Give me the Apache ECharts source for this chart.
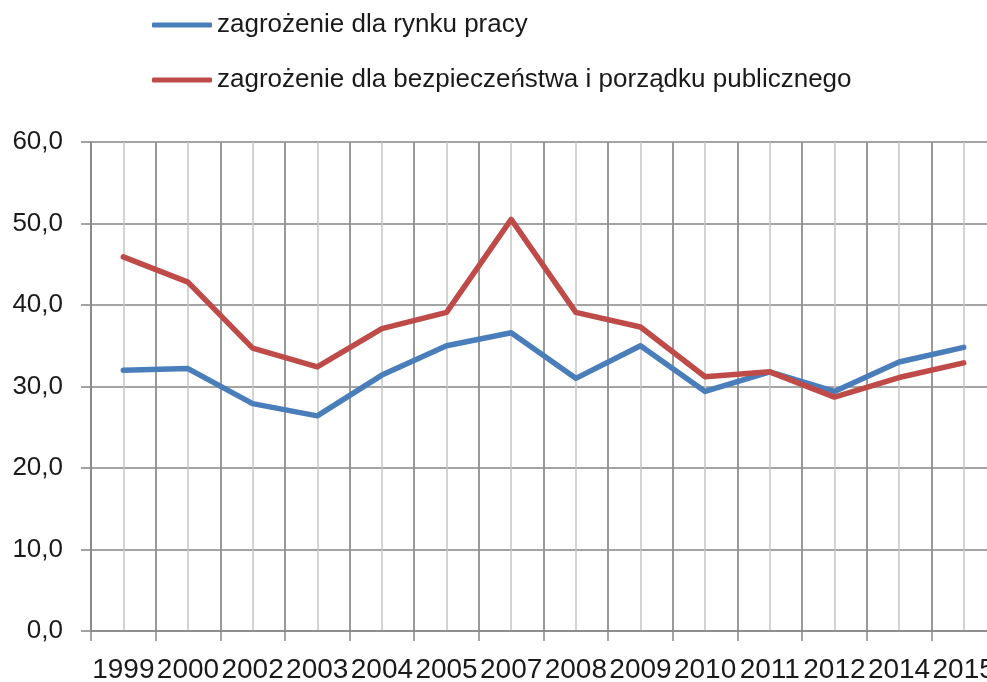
<!DOCTYPE html>
<html>
<head>
<meta charset="utf-8">
<script src="https://cdn.jsdelivr.net/npm/echarts@6/dist/echarts.min.js"></script>
<style>
  html, body { margin: 0; padding: 0; background: #fff; }
  #chart { width: 987px; height: 682px; }
</style>
</head>
<body>
<div id="chart"></div>
<script>
  var years = ['1999', '2000', '2002', '2003', '2004', '2005', '2007',
    '2008', '2009', '2010', '2011', '2012', '2014', '2015'];
  var rynekPracy = [32.0, 32.2, 27.9, 26.4, 31.4, 35.0, 36.6,
    31.0, 35.0, 29.4, 31.8, 29.4, 33.0, 34.8];
  var porzadekPubliczny = [45.9, 42.8, 34.7, 32.4, 37.1, 39.1, 50.5,
    39.1, 37.3, 31.2, 31.8, 28.7, 31.1, 32.9];
  var seriesNames = ['zagrożenie dla rynku pracy',
    'zagrożenie dla bezpieczeństwa i porządku publicznego'];

  var font = 'Liberation Sans, Arial, sans-serif';
  var chart = echarts.init(document.getElementById('chart'));

  chart.setOption({
    animation: false,
    backgroundColor: '#fff',
    legend: {
      orient: 'vertical',
      left: 152,
      top: 10,
      padding: 0,
      itemWidth: 60,
      itemHeight: 5,
      itemGap: 25,
      icon: 'roundRect',
      textStyle: { fontFamily: font, fontSize: 26, color: '#1a1a1a', lineHeight: 30 },
      data: seriesNames
    },
    grid: {
      left: 91,
      top: 142,
      right: -9,
      bottom: 51,
      containLabel: false,
      outerBoundsMode: 'none'
    },
    xAxis: [
      {
        type: 'category',
        data: years,
        boundaryGap: true,
        z: 1,
        axisLine: { lineStyle: { color: '#868686', width: 1.5 } },
        axisTick: { show: true, length: 10, lineStyle: { color: '#868686', width: 1.5 } },
        axisLabel: { interval: 0, margin: 25, fontFamily: font, fontSize: 28, color: '#1a1a1a' },
        splitLine: { show: true, interval: 0, lineStyle: { color: '#868686', width: 1.5 } }
      },
      {
        // light lines through the middle of each year
        type: 'value',
        min: 0,
        max: years.length,
        interval: 0.5,
        position: 'top',
        z: 0,
        axisLine: { show: false },
        axisTick: { show: false },
        axisLabel: { show: false },
        splitLine: { show: true, lineStyle: { color: '#c4c4c4', width: 1.5 } }
      }
    ],
    yAxis: {
      type: 'value',
      min: 0,
      max: 60,
      interval: 10,
      axisLine: { show: true, lineStyle: { color: '#868686', width: 1.5 } },
      axisTick: { show: true, length: 10, lineStyle: { color: '#868686', width: 1.5 } },
      axisLabel: {
        margin: 28,
        fontFamily: font,
        fontSize: 26,
        color: '#1a1a1a',
        formatter: function (v) { return v.toFixed(1).replace('.', ','); }
      },
      splitLine: { show: true, lineStyle: { color: '#868686', width: 1.5 } }
    },
    series: [
      {
        name: seriesNames[0],
        type: 'line',
        xAxisIndex: 0,
        data: rynekPracy,
        symbol: 'none',
        color: '#4A7EBB',
        lineStyle: { width: 5.5, join: 'round', cap: 'round' }
      },
      {
        name: seriesNames[1],
        type: 'line',
        xAxisIndex: 0,
        data: porzadekPubliczny,
        symbol: 'none',
        color: '#BE4B48',
        lineStyle: { width: 5.5, join: 'round', cap: 'round' }
      }
    ]
  });
</script>
</body>
</html>
